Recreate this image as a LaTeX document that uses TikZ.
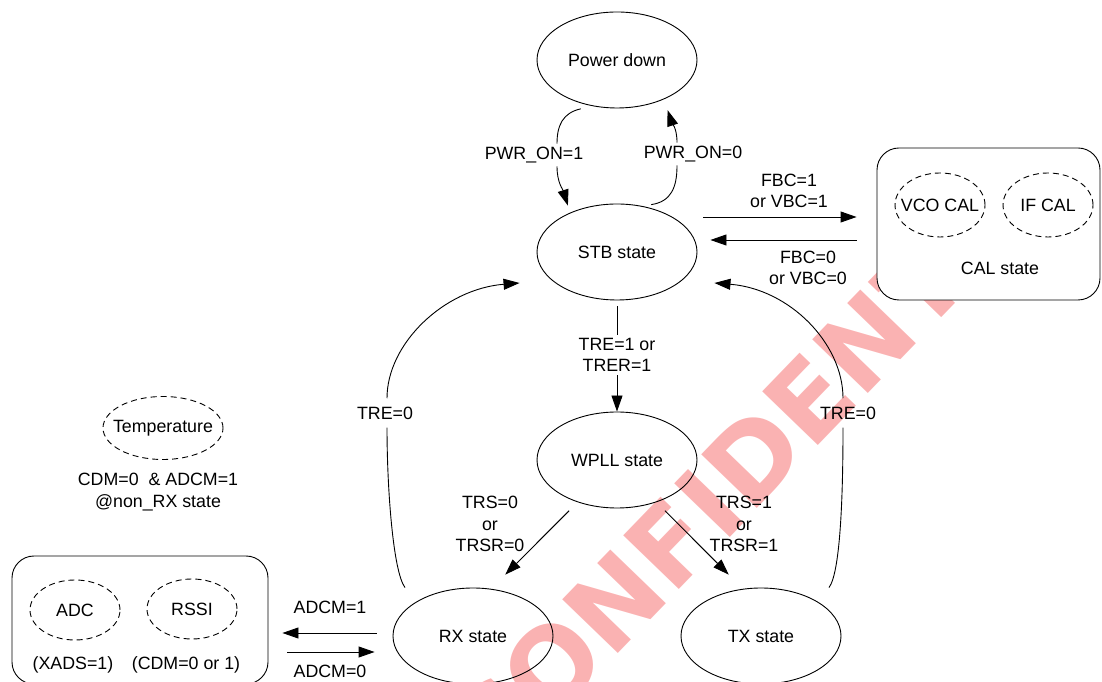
\documentclass[tikz,border=0pt]{standalone}
\usepackage{fontspec}
\setmainfont{Liberation Sans}
\newfontfamily\markfont{DejaVu Sans}
\usepackage{tikz}
\usetikzlibrary{
    positioning,
    arrows.meta,
    calc,
    shapes.geometric
}
\definecolor{markPink}{RGB}{250, 178, 178}

\begin{document}
\begin{tikzpicture}[x=1pt, y=1pt, line width=0.9pt,
    >={Triangle[length=16pt, width=11pt]},
    every node/.style={font=\fontsize{17.8}{21.5}\selectfont},
    stt/.style={draw, ellipse, minimum width=160, minimum height=96, inner sep=0pt},
    sub/.style={draw, ellipse, dash pattern=on 6pt off 4pt, inner sep=0pt},
    grp/.style={draw, rounded corners=22pt, fill=white},
    lbl/.style={align=center, inner sep=3pt},
    lblgap/.style={lbl, inner ysep=8pt}]
        \useasboundingbox (0,0) rectangle (1102,682);

        % 透かし (CAL 枠の外に出る部分は切る)
        \begin{scope}
            \clip (0,0) rectangle (1000,534);
            \node[text=markPink, rotate=46, font=\markfont\fontsize{106}{106}\bfseries\selectfont]
                (wm) at (772,244) {CONFIDENTIAL};
        \end{scope}

        % 状態
        \node[stt] (pd) at (617,622) {Power down};
        \node[stt] (stb) at (617,430) {STB state};
        \node[stt] (wpll) at (617,222) {WPLL state};
        \node[stt] (rx) at (473,46) {RX state};
        \node[stt] (tx) at (761,46) {TX state};

        % CAL state
        \node[grp, minimum width=223, minimum height=152] (cal) at (988.5,458) {};
        \node[sub, minimum width=90, minimum height=64] (vco) at (940,477) {\makebox[0pt]{VCO CAL}};
        \node[sub, minimum width=90, minimum height=64] (ifcal) at (1048,477) {\makebox[0pt]{IF CAL}};
        \node (calname) at (1000,414) {CAL state};

        % ADC / RSSI
        \node[grp, minimum width=256, minimum height=128] (adcbox) at (140,62) {};
        \node[sub, minimum width=90, minimum height=60] (adc) at (75,72) {\makebox[0pt]{ADC}};
        \node[sub, minimum width=90, minimum height=60] (rssi) at (192,73) {\makebox[0pt]{RSSI}};
        \node (xads) at (73,17) {(XADS=1)};
        \node (cdm) at (186,17) {(CDM=0 or 1)};

        % Temperature
        \node[sub, minimum width=120, minimum height=63] (temp) at (163,254) {\makebox[0pt]{Temperature}};
        \node[lbl] (tempcond) at (158,190) {CDM=0\ \ \& ADCM=1\\@non\_RX state};

        % ラベル
        \node[lbl] (l-pwr1) at (534,527) {PWR\_ON=1};
        \node[lbl] (l-pwr0) at (693,528) {PWR\_ON=0};
        \node[lbl] (l-fbc1) at (789,491) {FBC=1\\or VBC=1};
        \node[lbl] (l-fbc0) at (808,414) {FBC=0\\or VBC=0};
        \node[lbl] (l-tre1) at (617,327) {TRE=1 or\\TRER=1};
        \node[lblgap] (l-tre0l) at (385,269) {TRE=0};
        \node[lblgap] (l-tre0r) at (848,269) {TRE=0};
        \node[lbl] (l-trs0) at (490,158) {TRS=0\\or\\TRSR=0};
        \node[lbl] (l-trs1) at (744,158) {TRS=1\\or\\TRSR=1};
        \node[lbl] (l-adcm1) at (330,75) {ADCM=1};
        \node[lbl] (l-adcm0) at (330,11) {ADCM=0};

        % Power down <-> STB
        \draw ([shift={(-2,-5)}]pd.232) .. controls +(-18,-4) and +(0,18) .. ([xshift=23pt]l-pwr1.north);
        \draw[->] ([xshift=23pt]l-pwr1.south) .. controls +(0,-16) and +(-5,16) .. ([yshift=8pt]stb.142);
        \draw ([shift={(2,3)}]stb.54) .. controls +(20,3) and +(0,-22) .. ([xshift=-16pt]l-pwr0.south);
        \draw[->] ([xshift=-16pt]l-pwr0.north) .. controls +(0,15) and +(4,-12) .. ([shift={(-3,-14)}]pd.326);

        % STB <-> CAL
        \draw[->] ([shift={(6,35)}]stb.east) -- ([shift={(-20,7)}]cal.west);
        \draw[->] ([shift={(-20,-16)}]cal.west) -- ([shift={(13,12)}]stb.east);

        % STB -> WPLL -> RX / TX
        \draw[shorten <=6pt] (stb) -- (l-tre1);
        \draw[->] (l-tre1) -- (wpll);
        \draw[->, shorten <=12pt, shorten >=20pt] (wpll.227) -- (rx.69);
        \draw[->, shorten <=12pt, shorten >=20pt] (wpll.313) -- (tx.111);

        % RX / TX -> STB (TRE=0)
        \draw ([xshift=-68pt]rx.north) .. controls +(-12,16) and +(0,-60) .. ([xshift=2pt]l-tre0l.south);
        \draw[->] ([xshift=2pt]l-tre0l.north) .. controls +(0,55) and +(-75,-6) .. ([shift={(-17,-31)}]stb.west);
        \draw ([xshift=68pt]tx.north) .. controls +(12,16) and +(0,-60) .. ([xshift=-5pt]l-tre0r.south);
        \draw[->] ([xshift=-5pt]l-tre0r.north) .. controls +(0,55) and +(75,-6) .. ([shift={(17,-31)}]stb.east);

        % RX <-> ADC
        \draw[->] ([shift={(-16,3)}]rx.west) -- ([shift={(14,-13)}]adcbox.east);
        \draw[->] ([shift={(19,-32)}]adcbox.east) -- ([shift={(-18,-16)}]rx.west);
    \end{tikzpicture}
\end{document}
